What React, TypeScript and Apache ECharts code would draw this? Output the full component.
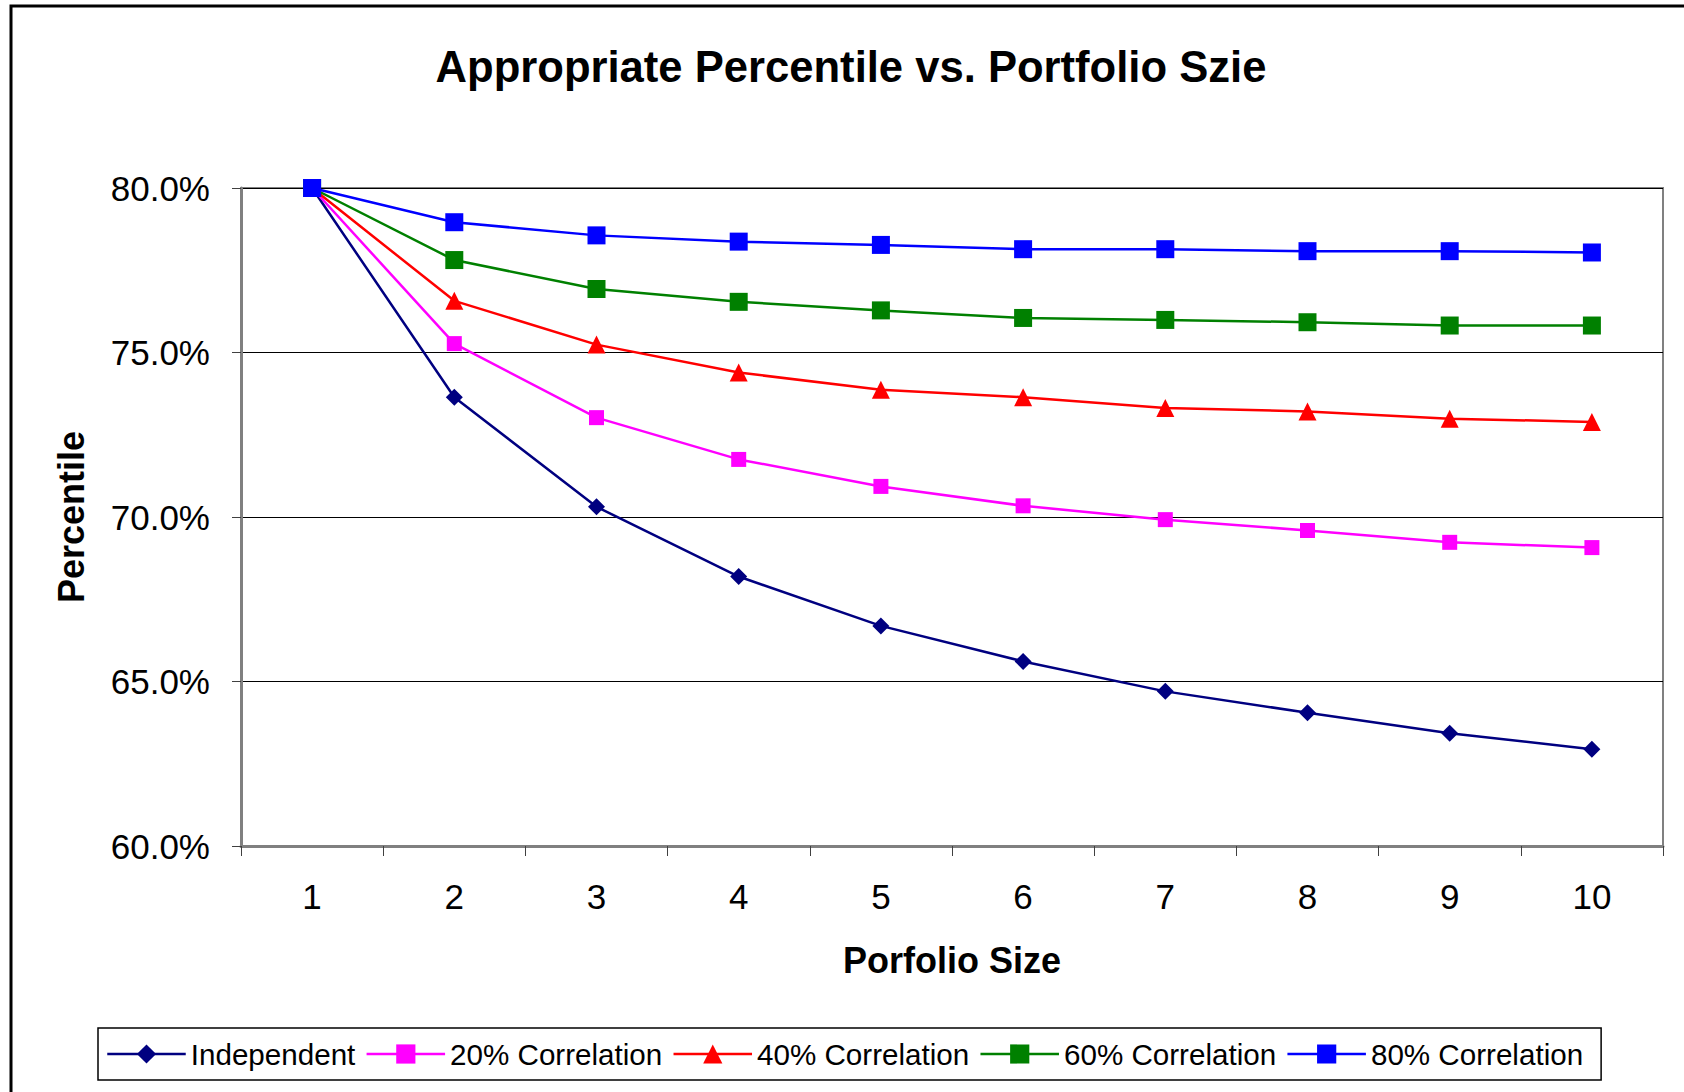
import React, { useEffect, useRef } from "react";
import * as echarts from "echarts";

const categories = ["1", "2", "3", "4", "5", "6", "7", "8", "9", "10"];
const seriesNames = ["Independent", "20% Correlation", "40% Correlation", "60% Correlation", "80% Correlation"];
const independent = [80.0, 73.64, 70.31, 68.19, 66.69, 65.61, 64.7, 64.05, 63.43, 62.94];
const corr20 = [80.0, 75.27, 73.02, 71.75, 70.93, 70.34, 69.92, 69.59, 69.23, 69.07];
const corr40 = [80.0, 76.57, 75.24, 74.39, 73.87, 73.64, 73.31, 73.21, 72.99, 72.89];
const corr60 = [80.0, 77.81, 76.93, 76.54, 76.28, 76.05, 75.99, 75.92, 75.82, 75.82];
const corr80 = [80.0, 78.96, 78.56, 78.37, 78.27, 78.14, 78.14, 78.08, 78.08, 78.04];
const yTicks = { min: 60, max: 80, interval: 5 };

const FONT = "'Liberation Sans', Arial, sans-serif";

export default function App() {
  const ref = useRef<HTMLDivElement>(null);
  useEffect(() => {
    if (!ref.current) return;
    const chart = echarts.init(ref.current, null, { renderer: "svg" });
    const colors = ["#000080", "#FF00FF", "#FF0000", "#008000", "#0000FF"];
    const symbols = ["diamond", "rect", "triangle", "rect", "rect"];
    const sizes = [17, 15, 18, 18, 18];
    const datas = [independent, corr20, corr40, corr60, corr80];
    chart.setOption({
      animation: false,
      backgroundColor: "#ffffff",
      textStyle: { fontFamily: FONT },
      graphic: [
        {
          type: "rect",
          shape: { x: 11, y: 6, width: 1720, height: 1120 },
          style: { fill: "none", stroke: "#000", lineWidth: 3 },
          silent: true,
        },
        {
          type: "text",
          x: 851,
          y: 67,
          style: {
            text: "Appropriate Percentile vs. Portfolio Szie",
            fontFamily: FONT,
            fontSize: 43.6,
            fontWeight: "bold",
            fill: "#000",
            align: "center",
            verticalAlign: "middle",
          },
        },
      ],
      grid: {
        left: 241,
        right: 21,
        top: 188,
        bottom: 246,
        show: true,
        borderColor: "#808080",
        borderWidth: 2,
        backgroundColor: "transparent",
      },
      legend: {
        left: 98,
        top: 1028,
        orient: "horizontal",
        padding: [11, 18, 11, 8],
        itemGap: 10,
        itemWidth: 78.5,
        itemHeight: 24,
        borderColor: "#000",
        borderWidth: 1.5,
        lineStyle: { width: 2.5 },
        textStyle: { fontSize: 29.6, color: "#000", fontFamily: FONT },
        data: seriesNames,
      },
      xAxis: {
        type: "category",
        data: categories,
        boundaryGap: true,
        name: "Porfolio Size",
        nameLocation: "middle",
        nameGap: 96,
        nameTextStyle: { fontSize: 36, fontWeight: "bold", color: "#000", fontFamily: FONT, verticalAlign: "top" },
        axisLine: { lineStyle: { color: "#808080", width: 3 } },
        axisTick: { show: true, length: 10, lineStyle: { color: "#404040", width: 1 } },
        axisLabel: { fontSize: 35, color: "#000", margin: 33, fontFamily: FONT },
        splitLine: { show: false },
      },
      yAxis: {
        type: "value",
        min: yTicks.min,
        max: yTicks.max,
        interval: yTicks.interval,
        name: "Percentile",
        nameLocation: "middle",
        nameGap: 152,
        nameTextStyle: { fontSize: 36, fontWeight: "bold", color: "#000", fontFamily: FONT },
        axisLine: { show: true, lineStyle: { color: "#808080", width: 3 } },
        axisTick: { show: true, length: 9, lineStyle: { color: "#404040", width: 1 } },
        axisLabel: {
          fontSize: 35,
          color: "#000",
          margin: 31,
          fontFamily: FONT,
          formatter: (v: number) => v.toFixed(1) + "%",
        },
        splitLine: { show: true, lineStyle: { color: "#000", width: 1 } },
      },
      series: datas.map((d, i) => ({
        name: seriesNames[i],
        type: "line",
        data: d,
        symbol: symbols[i],
        symbolSize: sizes[i],
        showSymbol: true,
        z: 2 + i,
        lineStyle: { color: colors[i], width: 2.5 },
        itemStyle: { color: colors[i], borderWidth: 0 },
      })),
    });
    return () => chart.dispose();
  }, []);
  return (
    <div
      ref={ref}
      style={{ position: "absolute", left: 0, top: 0, width: 1684, height: 1092 }}
    />
  );
}
